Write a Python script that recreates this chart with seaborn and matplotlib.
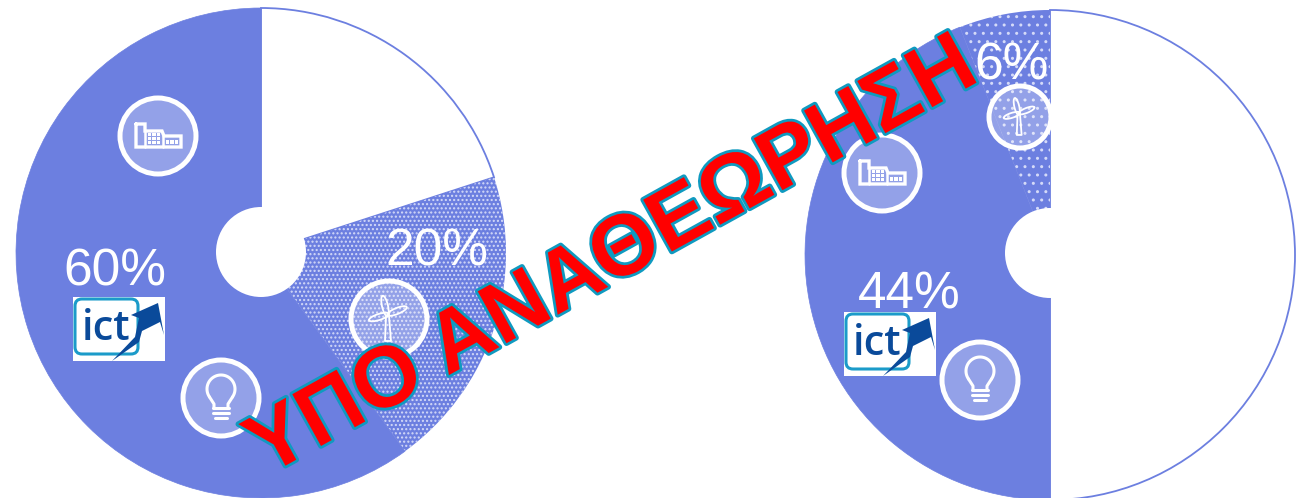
import numpy as np
import seaborn as sns
import matplotlib.pyplot as plt
from matplotlib.patches import Circle, Ellipse, FancyBboxPatch, Polygon, Rectangle
import matplotlib.patheffects as pe

W, H = 1297, 498

left_values = [20, 20, 60]
right_values = [50, 44, 6]
left_kinds = ["none", "wind", "solid"]
right_kinds = ["none", "solid", "wind"]
left_labels = ["60%", "20%"]
right_labels = ["44%", "6%"]
stamp_text = "ΥΠΟ ΑΝΑΘΕΩΡΗΣΗ"

BLUE = "#6c7fe0"
DOTS = "#d4daf8"
ICT_BLUE = "#0a4a9a"
ICT_CYAN = "#1b9bc9"


def Y(py):
    return H - py


def donut(ax, cx, cy, radius, values, kinds, hatch):
    colors = [{"none": "white", "wind": BLUE, "solid": BLUE}[k] for k in kinds]
    wedges, _ = ax.pie(values, center=(cx, Y(cy)), radius=radius, startangle=90, counterclock=False,
                       colors=colors, frame=True)
    for w, k in zip(wedges, kinds):
        if k == "none":
            w.set(edgecolor=BLUE, linewidth=1.3)
        elif k == "wind":
            w.set(edgecolor=DOTS, linewidth=0, hatch=hatch)
        else:
            w.set(edgecolor=BLUE, linewidth=0.5)


def hole(ax, cx, cy):
    ax.add_patch(Circle((cx, Y(cy)), 45, fc="white", ec="none", zorder=3))


def badge(ax, x, y, r=38):
    ax.add_patch(Circle((x, Y(y)), r, fc=(1, 1, 1, 0.27), ec="white", lw=3.6, zorder=4))


def factory(ax, x, y, r=38):
    badge(ax, x, y, r)
    pts = np.array([[-22, -12], [-13, -12], [-13, -5], [4, -5], [6, 0], [23, 0], [23, 11], [-22, 11], [-22, -12]])
    ax.plot(x + pts[:, 0], Y(y + pts[:, 1]), color="white", lw=2.4, zorder=5, solid_joinstyle="miter")
    ax.plot([x - 13, x - 13], [Y(y - 5), Y(y + 11)], color="white", lw=1.8, zorder=5)
    ax.plot([x + 5, x + 5], [Y(y), Y(y + 11)], color="white", lw=1.8, zorder=5)
    for i in range(3):
        for j in range(3):
            ax.add_patch(Rectangle((x - 10 + i * 4.4, Y(y + 8 - j * 4)), 3.2, 2.8, fc="white", ec="none", zorder=5))
    for i in range(3):
        ax.add_patch(Rectangle((x + 8 + i * 4.4, Y(y + 8)), 3.2, 4, fc="white", ec="none", zorder=5))


def bulb(ax, x, y, r=38):
    badge(ax, x, y, r)
    t = np.radians(np.linspace(-35, 215, 60))
    ax.plot(x + 14 * np.cos(t), Y(y - 9) + 14 * np.sin(t), color="white", lw=2.2, zorder=5)
    ax.plot([x - 11.5, x - 7, x - 7], [Y(y - 1), Y(y + 6), Y(y + 10)], color="white", lw=2.2, zorder=5)
    ax.plot([x + 11.5, x + 7, x + 7], [Y(y - 1), Y(y + 6), Y(y + 10)], color="white", lw=2.2, zorder=5)
    for dy, half in [(10, 8), (15, 8), (20, 6)]:
        ax.plot([x - half, x + half], [Y(y + dy)] * 2, color="white", lw=2.2, zorder=5)


def turbine(ax, x, y, r=38):
    badge(ax, x, y, r)
    s = r / 38
    for dx, dy, ang in [(-4, -13, 103), (8, -8, 22), (-10, -2, 18)]:
        ax.add_patch(Ellipse((x + dx * s, Y(y + dy * s)), 21 * s, 6 * s, angle=ang, fc="none", ec="white",
                             lw=1.3, zorder=5))
    ax.plot([x - 3 * s, x - 4 * s, x + 2 * s, x + 0 * s], [Y(y - 3 * s), Y(y + 22 * s), Y(y + 22 * s), Y(y - 3 * s)],
            color="white", lw=1.3, zorder=5)


def ict_logo(ax, x, y):
    ax.add_patch(Rectangle((x, Y(y + 64)), 92, 64, fc="white", ec="none", zorder=4))
    ax.add_patch(FancyBboxPatch((x + 2, Y(y + 57)), 63, 55, boxstyle="round,pad=0,rounding_size=7",
                                fc="white", ec=ICT_CYAN, lw=2.2, zorder=4))
    ax.text(x + 33, Y(y + 43), "ict", color=ICT_BLUE, fontsize=30, ha="center", va="baseline",
            zorder=5, family="Open Sans", weight="semibold")
    arrow = np.array([[85, 6], [58, 18], [66, 21], [62, 40], [39, 64], [66, 45], [69, 34], [87, 25], [91, 38]])
    ax.add_patch(Polygon(np.c_[x + arrow[:, 0], Y(y + arrow[:, 1])], fc=ICT_BLUE, ec="none", zorder=6))


sns.set_theme(style="white")
plt.rcParams["font.family"] = ["Liberation Sans", "DejaVu Sans"]

fig = plt.figure(figsize=(W / 100, H / 100), dpi=100)
ax = fig.add_axes([0, 0, 1, 1])

donut(ax, 261, 253, 245, left_values, left_kinds, "....")
donut(ax, 1050, 255, 245, right_values, right_kinds, "..")
hole(ax, 261, 252)
hole(ax, 1050, 253)
ax.set_xlim(0, W)
ax.set_ylim(0, H)
ax.set_aspect("auto")
ax.axis("off")

factory(ax, 158, 136)
bulb(ax, 221, 398)
turbine(ax, 389, 319)
factory(ax, 882, 173)
bulb(ax, 980, 380)
turbine(ax, 1020, 117, r=31)

for (x, y), s in zip([(115, 272), (437, 252)], left_labels):
    ax.text(x, Y(y), s, color="white", fontsize=37, ha="center", va="center", zorder=6)
for (x, y), s in zip([(909, 295), (1012, 66)], right_labels):
    ax.text(x, Y(y), s, color="white", fontsize=37, ha="center", va="center", zorder=6)

ict_logo(ax, 73, 297)
ict_logo(ax, 844, 312)

ax.text(613, Y(259), stamp_text, color="#ff0000", fontsize=62, weight="bold", ha="center", va="center",
        rotation=29, rotation_mode="anchor", zorder=10,
        path_effects=[pe.withStroke(linewidth=4, foreground="#0f9ac0")])

fig.savefig("out.png", dpi=100)
